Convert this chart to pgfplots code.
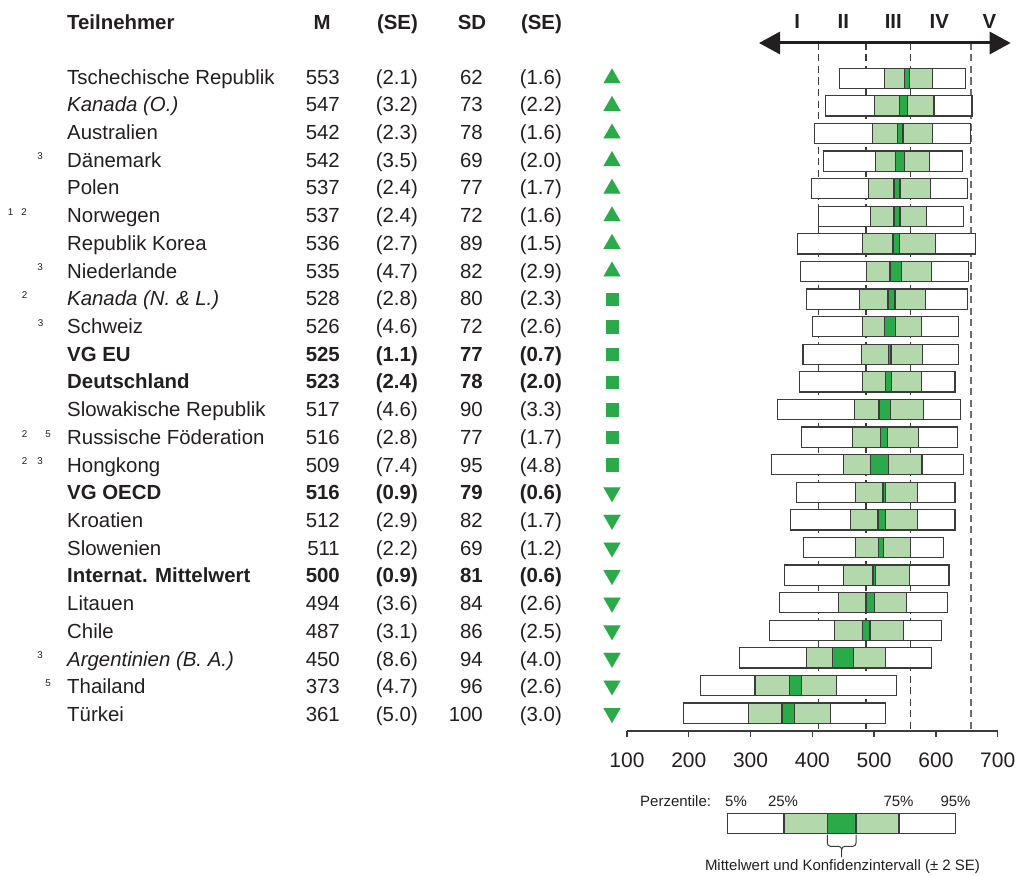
\documentclass[border=0pt]{standalone}
\usepackage{pgfplots}
\pgfplotsset{compat=1.18}
\usepackage{pgfplotstable}
\usepackage{fontspec}
\setmainfont{Liberation Sans}
\usetikzlibrary{arrows.meta}
\definecolor{txt}{RGB}{35,31,32}
\definecolor{bord}{RGB}{60,60,60}
\definecolor{lgreen}{RGB}{178,216,172}
\definecolor{dgreen}{RGB}{43,170,74}
\newcommand\ms{\fontsize{20.4}{24}\selectfont}
\newcommand\smallsz{\fontsize{15}{18}\selectfont}
\newcommand\supsz{\fontsize{9.8}{11}\selectfont}

\pgfplotstableread{
row p5 p25 M SE p75 p95
1 444.5 517.3 553 2.1 594.4 647.7
2 421.9 501.1 547 3.2 597.0 658.5
3 404.1 496.8 542 2.3 594.4 655.8
4 418.1 501.6 542 3.5 590.0 643.4
5 398.7 491.4 537 2.4 591.1 651.0
6 409.4 494.1 537 2.4 584.7 645.0
7 375.5 481.1 536 2.7 599.2 663.9
8 381.4 488.1 535 4.7 592.2 653.1
9 390.6 476.8 528 2.8 583.6 651.5
10 399.7 481.1 526 4.6 576.0 636.4
11 384.7 479.0 525 1.1 578.7 637.0
12 379.8 480.6 523 2.4 576.6 631.0
13 343.1 468.2 517 4.6 580.3 640.2
14 382.0 465.5 516 2.8 571.7 634.8
15 334.5 450.9 509 7.4 577.6 644.0
16 374.4 469.3 516 0.9 570.1 631.0
17 364.7 462.3 512 2.9 570.1 631.0
18 385.7 470.4 511 2.2 558.8 612.2
19 355.0 450.4 500 0.9 556.6 621.3
20 346.4 441.8 494 3.6 552.9 619.2
21 330.2 435.3 487 3.1 547.5 608.4
22 281.7 390.0 450 8.6 518.4 593.3
23 218.6 307.0 373 4.7 439.1 535.6
24 191.7 296.8 361 5.0 429.9 518.4
28 262.3 354.1 447.4 11.6 540.2 632.0
}\boxdata

\tikzset{t/.style={inner sep=0pt, text=txt}}

\newcommand\rowtxt[8]{%
 \pgfmathsetmacro\yy{-84-(#1-1)*27.72}%
 \node[t, anchor=base west, font=\ms#2] at (67pt,\yy pt) {#4};
 \node[t, anchor=base east, font=\ms#3] at (340pt,\yy pt) {#5};
 \node[t, anchor=base east, font=\ms#3] at (418pt,\yy pt) {(#6)};
 \node[t, anchor=base east, font=\ms#3] at (483pt,\yy pt) {#7};
 \node[t, anchor=base east, font=\ms#3] at (562pt,\yy pt) {(#8)};
}
\newcommand\supm[3]{%
 \pgfmathsetmacro\yy{-84-(#1-1)*27.72+7.2}%
 \node[t, anchor=base, font=\supsz] at (#2pt,\yy pt) {#3};
}

\begin{document}
\begin{tikzpicture}
\useasboundingbox (0pt,0pt) rectangle (1016pt,-875pt);

% background axis: dashed benchmark lines, x axis, markers
\begin{axis}[at={(627pt,-731pt)}, anchor=south west, scale only axis,
  width=370.7pt, height=701pt, xmin=100, xmax=700, ymin=-24.649, ymax=0.75,
  axis x line*=bottom, axis y line=none, clip=false,
  xtick={100,200,...,700}, ytick=\empty, tick align=outside, major tick length=6pt,
  x axis line style={draw=bord, line width=1.3pt},
  xtick style={draw=bord, line width=1.3pt},
  xticklabel style={font=\fontsize{21}{24}\selectfont, text=txt, inner sep=0pt, yshift=-16pt},
  /pgf/number format/assume math mode=true]
\addplot[bord, line width=1.2pt, dash pattern=on 7pt off 4.5pt] coordinates {(409.6,0.279) (409.6,-24.649)};
\addplot[bord, line width=1.2pt, dash pattern=on 7pt off 4.5pt] coordinates {(486.8,0.279) (486.8,-24.649)};
\addplot[bord, line width=1.2pt, dash pattern=on 7pt off 4.5pt] coordinates {(558.5,0.279) (558.5,-24.649)};
\addplot[bord!75, line width=1.6pt, dash pattern=on 7pt off 4.5pt] coordinates {(656.8,0.279) (656.8,-24.649)};
\addplot[only marks, color=dgreen, mark=triangle*, mark size=9.8pt, mark options={draw=dgreen, fill=dgreen, line width=0.1pt}]
  coordinates {(75.72,-1) (75.72,-2) (75.72,-3) (75.72,-4) (75.72,-5) (75.72,-6) (75.72,-7) (75.72,-8)};
\addplot[only marks, color=dgreen, mark=square*, mark size=6.2pt, mark options={draw=dgreen, fill=dgreen, line width=0.1pt}]
  coordinates {(75.72,-9) (75.72,-10) (75.72,-11) (75.72,-12) (75.72,-13) (75.72,-14) (75.72,-15)};
\addplot[only marks, color=dgreen, mark=triangle*, mark size=9.8pt, mark options={draw=dgreen, fill=dgreen, line width=0.1pt, rotate=180}]
  coordinates {(75.72,-16) (75.72,-17) (75.72,-18) (75.72,-19) (75.72,-20) (75.72,-21) (75.72,-22) (75.72,-23) (75.72,-24)};
\end{axis}

% foreground axis: percentile boxes
\begin{axis}[at={(627pt,-731pt)}, anchor=south west, scale only axis,
  width=370.7pt, height=701pt, xmin=100, xmax=700, ymin=-24.649, ymax=0.75,
  hide axis, clip=false, xbar stacked, bar width=0.725,
  every axis plot/.append style={draw=bord, line width=1.2pt}]
\addplot[draw=none, fill=none] table[x=p5, y expr=-\thisrow{row}] {\boxdata};
\addplot[fill=white] table[x expr=\thisrow{p25}-\thisrow{p5}, y expr=-\thisrow{row}] {\boxdata};
\addplot[fill=lgreen] table[x expr=\thisrow{M}-2*\thisrow{SE}-\thisrow{p25}, y expr=-\thisrow{row}] {\boxdata};
\addplot[fill=dgreen] table[x expr=4*\thisrow{SE}, y expr=-\thisrow{row}] {\boxdata};
\addplot[fill=lgreen] table[x expr=\thisrow{p75}-\thisrow{M}-2*\thisrow{SE}, y expr=-\thisrow{row}] {\boxdata};
\addplot[fill=white] table[x expr=\thisrow{p95}-\thisrow{p75}, y expr=-\thisrow{row}] {\boxdata};
\end{axis}

% arrow and levels
\draw[txt, line width=3pt, {Triangle[length=21pt,width=22pt]}-{Triangle[length=21pt,width=22pt]}] (759pt,-43pt) -- (1010.7pt,-43pt);
\foreach \xx/\lab in {797.3/I, 843.3/II, 893.3/III, 939.3/IV, 989.3/V}
  \node[t, anchor=base, font=\ms\bfseries] at (\xx pt,-28.3pt) {\lab};

% header
\node[t, anchor=base west, font=\ms\bfseries] at (67pt,-29.3pt) {Teilnehmer};
\node[t, anchor=base, font=\ms\bfseries] at (322pt,-29.3pt) {M};
\node[t, anchor=base east, font=\ms\bfseries] at (418pt,-29.3pt) {(SE)};
\node[t, anchor=base, font=\ms\bfseries] at (472pt,-29.3pt) {SD};
\node[t, anchor=base east, font=\ms\bfseries] at (562pt,-29.3pt) {(SE)};

% rows
\rowtxt{1}{}{}{Tschechische Republik}{553}{2.1}{62}{1.6}
\rowtxt{2}{\itshape}{}{Kanada (O.)}{547}{3.2}{73}{2.2}
\rowtxt{3}{}{}{Australien}{542}{2.3}{78}{1.6}
\rowtxt{4}{}{}{Dänemark}{542}{3.5}{69}{2.0}
\rowtxt{5}{}{}{Polen}{537}{2.4}{77}{1.7}
\rowtxt{6}{}{}{Norwegen}{537}{2.4}{72}{1.6}
\rowtxt{7}{}{}{Republik Korea}{536}{2.7}{89}{1.5}
\rowtxt{8}{}{}{Niederlande}{535}{4.7}{82}{2.9}
\rowtxt{9}{\itshape}{}{Kanada (N. \& L.)}{528}{2.8}{80}{2.3}
\rowtxt{10}{}{}{Schweiz}{526}{4.6}{72}{2.6}
\rowtxt{11}{\bfseries}{\bfseries}{VG EU}{525}{1.1}{77}{0.7}
\rowtxt{12}{\bfseries}{\bfseries}{Deutschland}{523}{2.4}{78}{2.0}
\rowtxt{13}{}{}{Slowakische Republik}{517}{4.6}{90}{3.3}
\rowtxt{14}{}{}{Russische Föderation}{516}{2.8}{77}{1.7}
\rowtxt{15}{}{}{Hongkong}{509}{7.4}{95}{4.8}
\rowtxt{16}{\bfseries}{\bfseries}{VG OECD}{516}{0.9}{79}{0.6}
\rowtxt{17}{}{}{Kroatien}{512}{2.9}{82}{1.7}
\rowtxt{18}{}{}{Slowenien}{511}{2.2}{69}{1.2}
\rowtxt{19}{\bfseries}{\bfseries}{Internat. Mittelwert}{500}{0.9}{81}{0.6}
\rowtxt{20}{}{}{Litauen}{494}{3.6}{84}{2.6}
\rowtxt{21}{}{}{Chile}{487}{3.1}{86}{2.5}
\rowtxt{22}{\itshape}{}{Argentinien (B. A.)}{450}{8.6}{94}{4.0}
\rowtxt{23}{}{}{Thailand}{373}{4.7}{96}{2.6}
\rowtxt{24}{}{}{Türkei}{361}{5.0}{100}{3.0}

% footnote marks
\supm{4}{40}{3}
\supm{6}{10.5}{1}
\supm{6}{24}{2}
\supm{8}{40}{3}
\supm{9}{24.5}{2}
\supm{10}{40.5}{3}
\supm{14}{24.5}{2}
\supm{14}{48}{5}
\supm{15}{24.5}{2}
\supm{15}{40}{3}
\supm{22}{40}{3}
\supm{23}{48}{5}

% legend texts
\node[t, anchor=base west, font=\smallsz] at (640pt,-806.5pt) {Perzentile:};
\node[t, anchor=base, font=\smallsz] at (736pt,-806.5pt) {5\%};
\node[t, anchor=base, font=\smallsz] at (783pt,-806.5pt) {25\%};
\node[t, anchor=base, font=\smallsz] at (898.5pt,-806.5pt) {75\%};
\node[t, anchor=base, font=\smallsz] at (955.5pt,-806.5pt) {95\%};
\draw[bord, line width=1pt, line cap=round]
  (827.3pt,-835pt) -- (827.3pt,-843pt) to[out=-90,in=180] (830.5pt,-846.3pt) -- (838.5pt,-846.3pt)
  to[out=0,in=90] (841.7pt,-849.5pt) -- (841.7pt,-857pt);
\draw[bord, line width=1pt, line cap=round]
  (856pt,-835pt) -- (856pt,-843pt) to[out=-90,in=0] (852.8pt,-846.3pt) -- (844.9pt,-846.3pt)
  to[out=180,in=90] (841.7pt,-849.5pt);
\node[t, anchor=base, font=\smallsz] at (842.5pt,-870.5pt) {Mittelwert und Konfidenzintervall (± 2 SE)};
\end{tikzpicture}
\end{document}
